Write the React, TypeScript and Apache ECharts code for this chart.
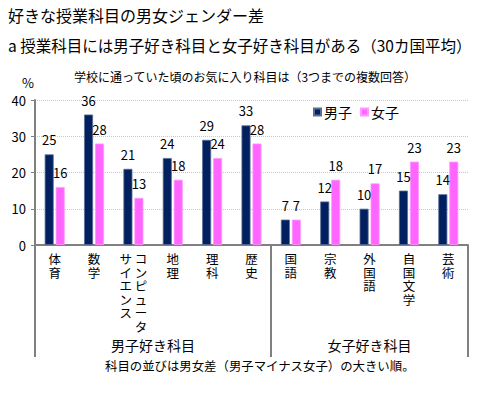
import React, { useEffect, useRef } from "react";
import * as echarts from "echarts";

const categories = ["体育", "数学", "コンピュータサイエンス", "地理", "理科", "歴史", "国語", "宗教", "外国語", "自国文学", "芸術"];
const maleValues = [25, 36, 21, 24, 29, 33, 7, 12, 10, 15, 14];
const femaleValues = [16, 28, 13, 18, 24, 28, 7, 18, 17, 23, 23];
const yTicks = [0, 10, 20, 30, 40];
const groupLabels = ["男子好き科目", "女子好き科目"];
const seriesNames = ["男子", "女子"];

const FONT = "'Noto Sans CJK JP', sans-serif";

function verticalLabel(v: string): string {
  if (v === "コンピュータサイエンス") {
    const right = "コンピュータ".split("");
    const left = "サイエンス".split("");
    const rows: string[] = [];
    for (let i = 0; i < right.length; i++) {
      rows.push((left[i] || "\u3000") + " " + right[i]);
    }
    return rows.join("\n");
  }
  return v.split("").join("\n");
}

export default function App() {
  const ref = useRef<HTMLDivElement>(null);
  useEffect(() => {
    document.body.style.margin = "0";
    const chart = echarts.init(ref.current!, null, { renderer: "svg" });
    chart.setOption({
      animation: false,
      textStyle: { fontFamily: FONT },
      title: [
        { text: "好きな授業科目の男女ジェンダー差", left: 3, top: 2, textStyle: { fontSize: 16, fontWeight: "normal", color: "#000", fontFamily: FONT } },
        { text: "a 授業科目には男子好き科目と女子好き科目がある（30カ国平均）", left: 3, top: 32, textStyle: { fontSize: 15.5, fontWeight: "normal", color: "#000", fontFamily: FONT } },
        { text: "学校に通っていた頃のお気に入り科目は（3つまでの複数回答）", left: 69, top: 65, textStyle: { fontSize: 12, fontWeight: "normal", color: "#000", fontFamily: FONT } },
        { text: "%", left: 17, top: 71, textStyle: { fontSize: 13, fontWeight: "normal", color: "#000", fontFamily: FONT } },
        { text: "科目の並びは男女差（男子マイナス女子）の大きい順。", left: 100, top: 355, textStyle: { fontSize: 12.4, fontWeight: "normal", color: "#000", fontFamily: FONT } },
      ],
      legend: {
        data: seriesNames,
        left: 308,
        top: 100,
        itemWidth: 7,
        itemHeight: 7,
        itemGap: 8,
        icon: "rect",
        textStyle: { fontSize: 14, color: "#000", fontFamily: FONT, padding: [0, 0, 0, -2] },
      },
      grid: { left: 35, right: 16, top: 100, bottom: 150, containLabel: false },
      xAxis: [
        {
          type: "category",
          data: categories,
          axisLine: { lineStyle: { color: "#808080", width: 2 } },
          axisTick: {
            show: true,
            length: 112,
            interval: (i: number) => i === 0 || i === 6,
            lineStyle: { color: "#808080", width: 2 },
          },
          axisLabel: {
            interval: 0,
            margin: 7,
            fontSize: 12.5,
            lineHeight: 13.5,
            color: "#000",
            fontFamily: FONT,
            verticalAlign: "top",
            formatter: (v: string) => verticalLabel(v),
          },
        },
        {
          type: "value",
          min: 0,
          max: categories.length,
          interval: 0.5,
          position: "bottom",
          offset: 100,
          axisLine: { show: false },
          axisTick: { show: false },
          splitLine: { show: false },
          axisLabel: {
            margin: 0,
            fontSize: 14,
            color: "#000",
            fontFamily: FONT,
            verticalAlign: "middle",
            showMinLabel: false,
            showMaxLabel: false,
            formatter: (v: number) => (v === 3 ? groupLabels[0] : v === 8.5 ? groupLabels[1] : ""),
          },
        },
      ],
      yAxis: {
        type: "value",
        min: yTicks[0],
        max: yTicks[yTicks.length - 1],
        interval: 10,
        axisLine: { show: true, lineStyle: { color: "#808080", width: 2 } },
        axisTick: { show: true, length: 4, lineStyle: { color: "#808080", width: 1 } },
        axisLabel: { fontSize: 13, color: "#000", margin: 9, fontFamily: FONT },
        splitLine: { lineStyle: { color: "#c8c8c8", type: "dotted", width: 1 } },
      },
      series: [
        {
          name: seriesNames[0],
          type: "bar",
          data: maleValues,
          barWidth: 9,
          barGap: "22%",
          itemStyle: { color: "#002060", borderColor: "#5a6d96", borderWidth: 0.8 },
          label: { show: true, position: "top", distance: 8, fontSize: 13, color: "#000", fontFamily: FONT },
        },
        {
          name: seriesNames[1],
          type: "bar",
          data: femaleValues,
          barWidth: 9,
          itemStyle: { color: "#ff66ff", borderColor: "#ff99ff", borderWidth: 0.8 },
          label: { show: true, position: "top", distance: 8, fontSize: 13, color: "#000", fontFamily: FONT },
        },
      ],
    });
    return () => chart.dispose();
  }, []);
  return <div ref={ref} style={{ width: 484, height: 395 }} />;
}
